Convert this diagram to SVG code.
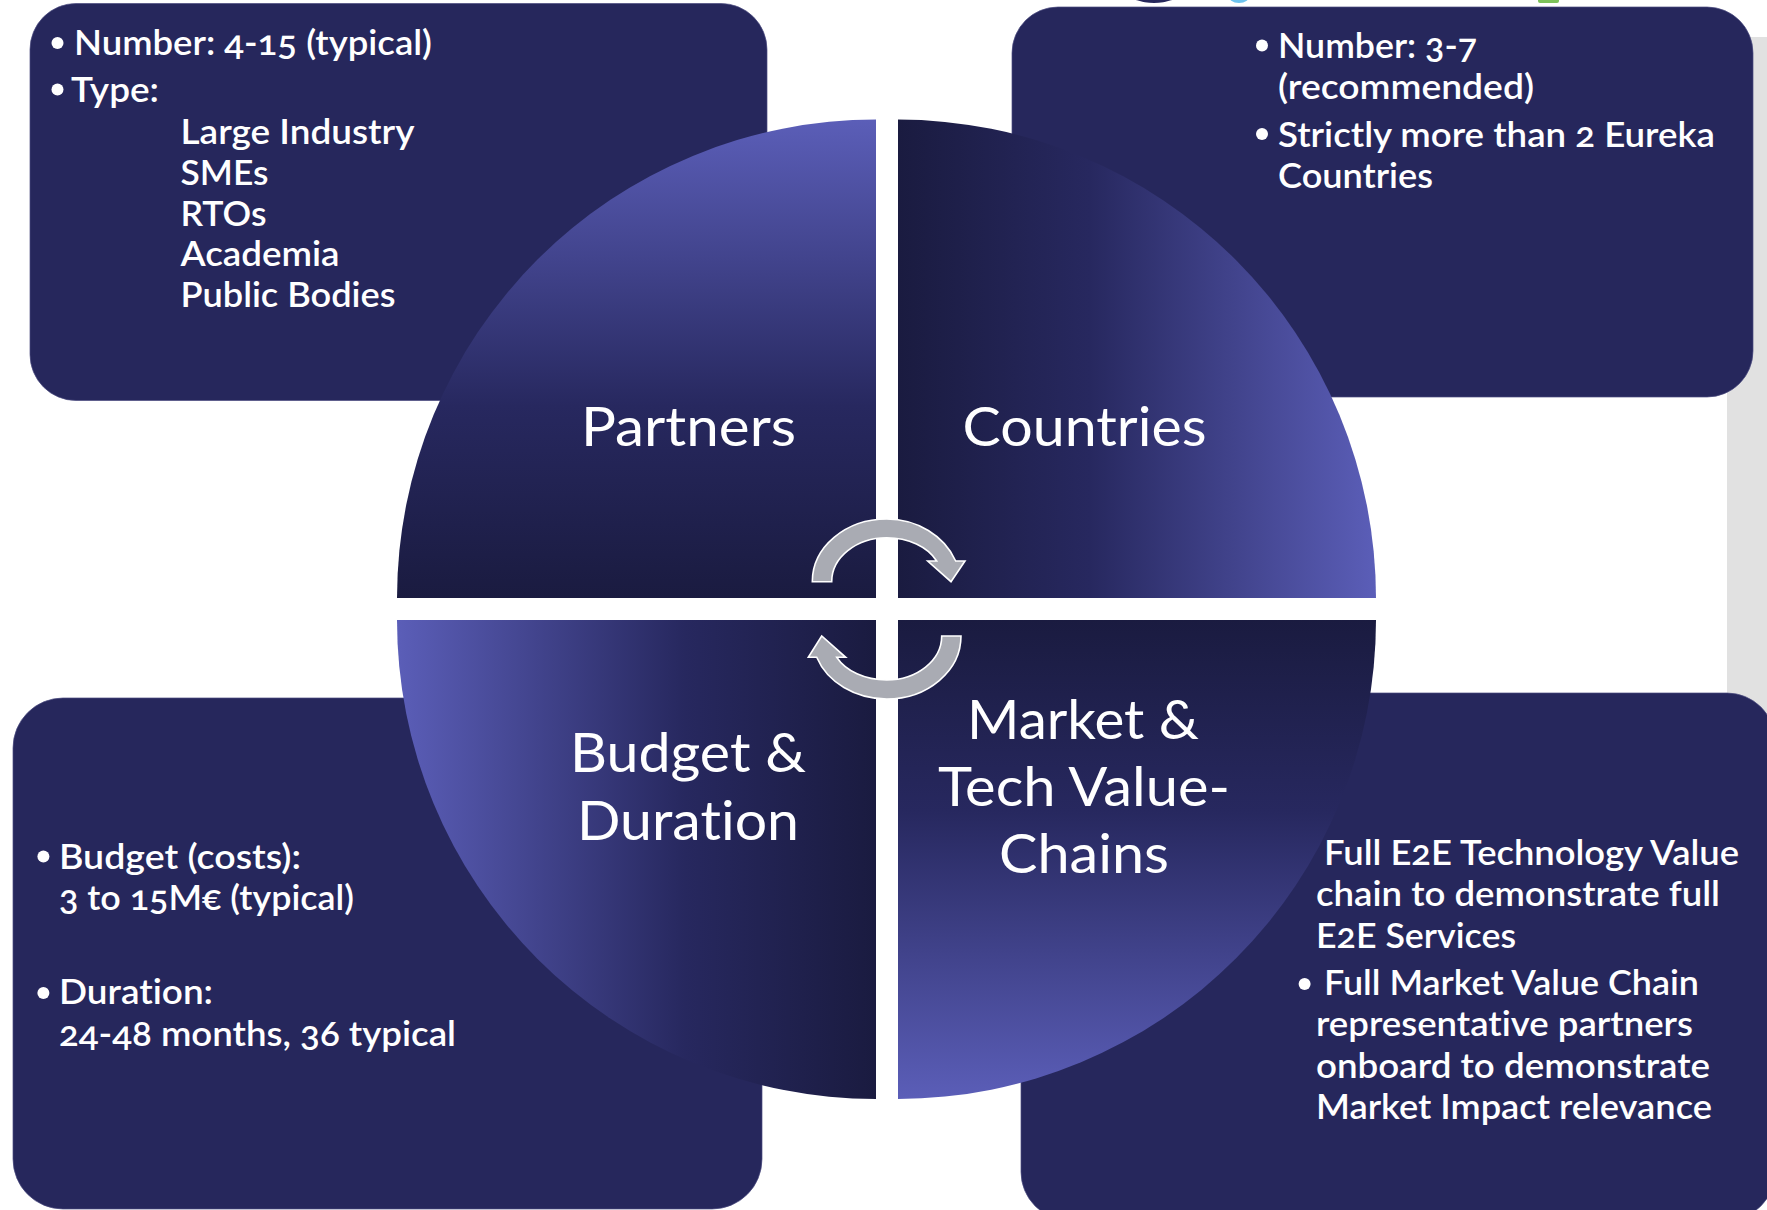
<svg xmlns="http://www.w3.org/2000/svg" width="1767" height="1210" viewBox="0 0 1767 1210">
<style>
.box{fill:#26275C;stroke:#4a4b80;stroke-width:.7}
.arrow{fill:#A9ABB3;stroke:#fff;stroke-width:1.6}
text{font-family:"Lato","Noto Sans",sans-serif;fill:#fff;font-variant-ligatures:none;font-variant-numeric:oldstyle-nums;font-feature-settings:"onum" 1,"liga" 0}
.s{font-size:34px;font-weight:600}
.b{font-size:55px;font-weight:400}
.dot{fill:#fff}
</style>
<defs>
<linearGradient id="gTL" x1="0" y1="0" x2="0" y2="1"><stop offset="0" stop-color="#5B5EB8"/><stop offset=".6" stop-color="#27285F"/><stop offset="1" stop-color="#1A1B40"/></linearGradient>
<linearGradient id="gTR" x1="0" y1="0" x2="1" y2="0"><stop offset="0" stop-color="#1A1B40"/><stop offset=".4" stop-color="#27285F"/><stop offset="1" stop-color="#5B5EB8"/></linearGradient>
<linearGradient id="gBL" x1="0" y1="0" x2="1" y2="0"><stop offset="0" stop-color="#5B5EB8"/><stop offset=".6" stop-color="#27285F"/><stop offset="1" stop-color="#1A1B40"/></linearGradient>
<linearGradient id="gBR" x1="0" y1="0" x2="0" y2="1"><stop offset="0" stop-color="#1A1B40"/><stop offset=".4" stop-color="#27285F"/><stop offset="1" stop-color="#5B5EB8"/></linearGradient>
</defs>
<rect width="1767" height="1210" fill="#fff"/>
<rect x="1727" y="37" width="40" height="690" fill="#E1E1E1"/>
<ellipse cx="1154" cy="-6" rx="24" ry="9" fill="#26275C"/>
<ellipse cx="1239" cy="-5" rx="11" ry="8" fill="#6EC3EE"/>
<rect x="1538" y="-4" width="21" height="7" rx="2" fill="#7DC25A"/>

<g id="box-partners"><rect class="box" x="30" y="3.5" width="737" height="397" rx="46"/>
<circle class="dot" cx="57.5" cy="43" r="6"/><circle class="dot" cx="57.5" cy="89.5" r="6"/>
<text class="s" x="74" y="55" textLength="358" lengthAdjust="spacingAndGlyphs">Number: 4-15 (typical)</text>
<text class="s" x="71" y="101.5" textLength="88" lengthAdjust="spacingAndGlyphs">Type:</text>
<text class="s" x="180.5" y="143.5" textLength="234" lengthAdjust="spacingAndGlyphs">Large Industry</text>
<text class="s" x="180.5" y="184.8" textLength="88" lengthAdjust="spacingAndGlyphs">SMEs</text>
<text class="s" x="180.5" y="225.8" textLength="86" lengthAdjust="spacingAndGlyphs">RTOs</text>
<text class="s" x="180.5" y="265.8" textLength="159" lengthAdjust="spacingAndGlyphs">Academia</text>
<text class="s" x="180.5" y="306.7" textLength="215" lengthAdjust="spacingAndGlyphs">Public Bodies</text></g>

<g id="box-countries"><rect class="box" x="1012" y="7" width="741" height="390" rx="46"/>
<circle class="dot" cx="1262" cy="45.5" r="6"/><circle class="dot" cx="1262" cy="134" r="6"/>
<text class="s" x="1278" y="58" textLength="199" lengthAdjust="spacingAndGlyphs">Number: 3-7</text>
<text class="s" x="1278" y="99" textLength="256" lengthAdjust="spacingAndGlyphs">(recommended)</text>
<text class="s" x="1278" y="146.6" textLength="437" lengthAdjust="spacingAndGlyphs">Strictly more than 2 Eureka</text>
<text class="s" x="1278" y="188" textLength="155" lengthAdjust="spacingAndGlyphs">Countries</text></g>

<g id="box-budget"><rect class="box" x="13" y="698" width="749" height="511" rx="50"/>
<circle class="dot" cx="43.4" cy="856.5" r="6"/><circle class="dot" cx="43.4" cy="993" r="6"/>
<text class="s" x="59" y="868.5" textLength="242" lengthAdjust="spacingAndGlyphs">Budget (costs):</text>
<text class="s" x="59" y="910" textLength="295" lengthAdjust="spacingAndGlyphs">3 to 15M€ (typical)</text>
<text class="s" x="59" y="1004" textLength="154" lengthAdjust="spacingAndGlyphs">Duration:</text>
<text class="s" x="59" y="1045.6" textLength="397" lengthAdjust="spacingAndGlyphs">24-48 months, 36 typical</text></g>

<g id="box-market"><rect class="box" x="1021" y="693" width="754" height="527" rx="48"/>
<circle class="dot" cx="1304.6" cy="984" r="6"/>
<text class="s" x="1324" y="865.4" textLength="415" lengthAdjust="spacingAndGlyphs">Full E2E Technology Value</text>
<text class="s" x="1316" y="906.3" textLength="404" lengthAdjust="spacingAndGlyphs">chain to demonstrate full</text>
<text class="s" x="1316" y="947.6" textLength="200" lengthAdjust="spacingAndGlyphs">E2E Services</text>
<text class="s" x="1324" y="995.4" textLength="375" lengthAdjust="spacingAndGlyphs">Full Market Value Chain</text>
<text class="s" x="1316" y="1036.3" textLength="377" lengthAdjust="spacingAndGlyphs">representative partners</text>
<text class="s" x="1316" y="1077.6" textLength="394" lengthAdjust="spacingAndGlyphs">onboard to demonstrate</text>
<text class="s" x="1316" y="1118.5" textLength="396" lengthAdjust="spacingAndGlyphs">Market Impact relevance</text></g>

<g id="quad-partners"><path fill="url(#gTL)" d="M876 598H397A479 479 0 0 1 876 119.5Z"/>
<text class="b" x="581" y="445.6" textLength="215" lengthAdjust="spacingAndGlyphs">Partners</text></g>
<g id="quad-countries"><path fill="url(#gTR)" d="M898 598V119.5A479 479 0 0 1 1376 598Z"/>
<text class="b" x="962.5" y="445.6" textLength="244" lengthAdjust="spacingAndGlyphs">Countries</text></g>
<g id="quad-budget"><path fill="url(#gBL)" d="M876 620H397A479 479 0 0 0 876 1099Z"/>
<text class="b" x="570" y="771.7" textLength="236" lengthAdjust="spacingAndGlyphs">Budget &amp;</text>
<text class="b" x="577" y="839.6" textLength="222" lengthAdjust="spacingAndGlyphs">Duration</text></g>
<g id="quad-market"><path fill="url(#gBR)" d="M898 620H1376A479 479 0 0 1 898 1099Z"/>
<text class="b" x="967" y="739" textLength="232" lengthAdjust="spacingAndGlyphs">Market &amp;</text>
<text class="b" x="938" y="806.4" textLength="292" lengthAdjust="spacingAndGlyphs">Tech Value-</text>
<text class="b" x="999" y="873" textLength="170" lengthAdjust="spacingAndGlyphs">Chains</text></g>

<g id="connectors">
<path class="arrow" d="M812.3 581.7A74.4 62.7 0 0 1 886.7 519A74.4 67 0 0 1 955.7 561H965L951 581.7L927.7 561H936.7A55 40 0 0 0 886.7 537.7A55 44 0 0 0 831.7 581.7Z"/>
<path class="arrow" d="M961 636A74.3 63 0 0 1 886.7 699A74.3 63 0 0 1 816.7 657.3H808.3L821.7 636L845.7 657.3H836.7A55 39 0 0 0 886.7 680A55 44 0 0 0 941.7 636Z"/>
</g>
</svg>
